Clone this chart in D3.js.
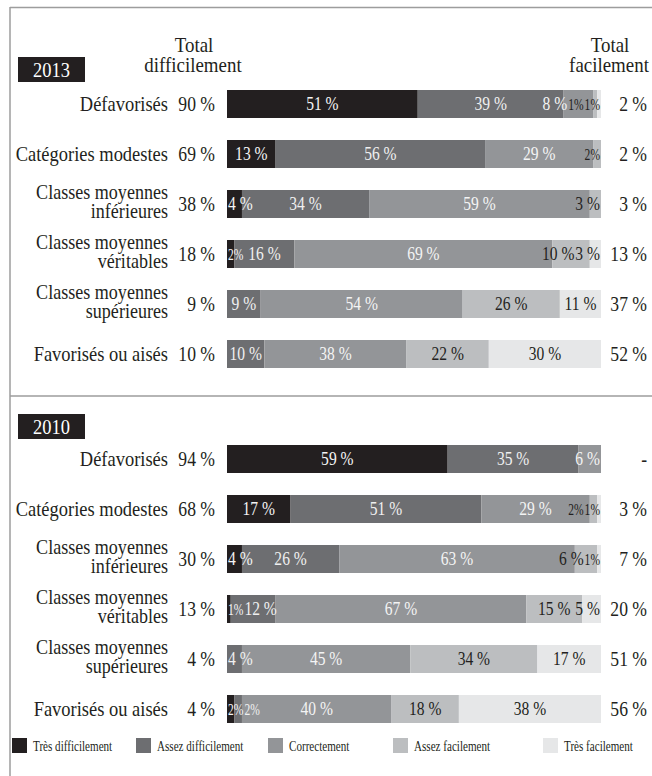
<!DOCTYPE html>
<html><head><meta charset="utf-8">
<script src="https://cdn.jsdelivr.net/npm/d3@7"></script>
<style>
html,body{margin:0;padding:0;background:#fff;}
text{font-family:"Liberation Serif","Times New Roman","DejaVu Serif",serif;}
</style></head>
<body>
<svg id="chart" width="652" height="776"></svg>
<script>
// ---------- data ----------
const levels = ["Très difficilement","Assez difficilement","Correctement","Assez facilement","Très facilement"];
const categories = [["Défavorisés"],["Catégories modestes"],["Classes moyennes","inférieures"],["Classes moyennes","véritables"],["Classes moyennes","supérieures"],["Favorisés ou aisés"]];

const years = ["2013","2010"];

const tresDiff2013  = [51,13,4,2,0,0];
const assezDiff2013 = [39,56,34,16,9,10];
const correct2013   = [8,29,59,69,54,38];
const assezFac2013  = [1,2,3,10,26,22];
const tresFac2013   = [1,0,0,3,11,30];
const totalDiff2013 = ["90 %","69 %","38 %","18 %","9 %","10 %"];
const totalFac2013  = ["2 %","2 %","3 %","13 %","37 %","52 %"];

const tresDiff2010  = [59,17,4,1,0,2];
const assezDiff2010 = [35,51,26,12,4,2];
const correct2010   = [6,29,63,67,45,40];
const assezFac2010  = [0,2,6,15,34,18];
const tresFac2010   = [0,1,1,5,17,38];
const totalDiff2010 = ["94 %","68 %","30 %","13 %","4 %","4 %"];
const totalFac2010  = ["-","3 %","7 %","20 %","51 %","56 %"];

const colors = ["#231f20","#6d6e71","#939598","#bcbec0","#e6e7e8"];
const labelColors = ["#f4f4f4","#f0f0f0","#f4f4f4","#231f20","#231f20"];

// ---------- layout ----------
const FONT = "'Liberation Serif','Times New Roman','DejaVu Serif',serif";
const svg = d3.select("#chart");
const x = d3.scaleLinear().domain([0,100]).range([227,601]);
const color = d3.scaleOrdinal().domain(levels).range(colors);
const labelColor = d3.scaleOrdinal().domain(levels).range(labelColors);

const panels = [
  {year:years[0], series:[tresDiff2013,assezDiff2013,correct2013,assezFac2013,tresFac2013], tdiff:totalDiff2013, tfac:totalFac2013, top:90, yearBox:57, header:true},
  {year:years[1], series:[tresDiff2010,assezDiff2010,correct2010,assezFac2010,tresFac2010], tdiff:totalDiff2010, tfac:totalFac2010, top:445, yearBox:414, header:false}
];

// frame lines
const frame = svg.append("g").attr("stroke","#9d9d9d").attr("stroke-width",1.5).attr("fill","none");
frame.append("line").attr("x1",10).attr("x2",652).attr("y1",7.5).attr("y2",7.5);
frame.append("line").attr("x1",10).attr("x2",10).attr("y1",7).attr("y2",776);
frame.append("line").attr("x1",10).attr("x2",652).attr("y1",396).attr("y2",396);

function sText(g, x0, y0, txt, size, sx, anchor, fill){
  const gg = g.append("g").attr("transform",`translate(${x0},${y0}) scale(${sx},1)`);
  const t = gg.append("text").attr("x",0).attr("y",0).attr("font-size",size)
    .attr("font-family",FONT)
    .attr("text-anchor",anchor).attr("fill",fill||"#231f20").text(txt);
  return {g:gg, t:t, sx:sx};
}

panels.forEach(p=>{
  const g = svg.append("g");
  const y = d3.scaleBand().domain(d3.range(categories.length)).range([p.top-11, p.top-11+50*categories.length]).paddingInner(0.44).paddingOuter(0.22);
  // year box
  g.append("rect").attr("x",18).attr("y",p.yearBox).attr("width",67).attr("height",25).attr("fill","#231f20");
  sText(g, 51.5, p.yearBox+19.5, p.year, 22, 0.84, "middle", "#ffffff");
  if(p.header){
    sText(g, 194, 52, "Total", 22, 0.86, "middle");
    sText(g, 193, 72, "difficilement", 22, 0.86, "middle");
    sText(g, 610, 52, "Total", 22, 0.86, "middle");
    sText(g, 609, 72, "facilement", 22, 0.86, "middle");
  }
  categories.forEach((cat,i)=>{
    const by = y(i), bh = y.bandwidth(), cy = by + bh/2;
    // category label
    if(cat.length===1){
      sText(g, 168, cy+7, cat[0], 22, 0.84, "end");
    } else {
      sText(g, 168, cy-5, cat[0], 21, 0.86, "end");
      sText(g, 168, cy+13.5, cat[1], 21, 0.86, "end");
    }
    sText(g, 215, cy+7, p.tdiff[i], 22, 0.8, "end");
    sText(g, 647, cy+7, p.tfac[i], 22, 0.8, "end");
    // stacked segments
    let acc = 0;
    const segs = [];
    p.series.forEach((s,k)=>{
      const v = s[i];
      if(v>0){ segs.push({k:k, v:v, x0:acc, x1:acc+v}); }
      acc += v;
    });
    g.selectAll(null).data(segs).enter().append("rect")
      .attr("x",d=>x(d.x0)).attr("y",by)
      .attr("width",d=>x(d.x1)-x(d.x0)).attr("height",bh)
      .attr("fill",d=>color(levels[d.k]));
    // labels
    const labs = segs.map(d=>{
      const small = d.v<=2;
      const size = small?17:19, sx = small?0.68:0.82;
      const txt = small ? d.v+"%" : d.v+" %";
      const o = sText(g, 0, cy+6, txt, size, sx, "middle", labelColor(levels[d.k]));
      const w = o.t.node().getComputedTextLength()*sx;
      return {o:o, w:w, c:(x(d.x0)+x(d.x1))/2};
    });
    const gap = 1, lo = x(0)+1, hi = x(acc)-1;
    for(let j=labs.length-1;j>=0;j--){
      const lim = j===labs.length-1 ? hi : labs[j+1].c - labs[j+1].w/2 - gap;
      if(labs[j].c + labs[j].w/2 > lim) labs[j].c = lim - labs[j].w/2;
    }
    for(let j=0;j<labs.length;j++){
      const lim = j===0 ? lo : labs[j-1].c + labs[j-1].w/2 + gap;
      if(labs[j].c - labs[j].w/2 < lim) labs[j].c = lim + labs[j].w/2;
    }
    labs.forEach(l=>{
      l.o.g.attr("transform",`translate(${l.c},${cy+6}) scale(${l.o.sx},1)`);
    });
  });
});

// legend
const legendX = [12,136,268,393,543];
const lg = svg.append("g");
levels.forEach((lv,i)=>{
  lg.append("rect").attr("x",legendX[i]).attr("y",738).attr("width",15).attr("height",15).attr("fill",color(lv));
  sText(lg, legendX[i]+21, 751, lv, 15, 0.74, "start");
});
</script>
</body></html>
